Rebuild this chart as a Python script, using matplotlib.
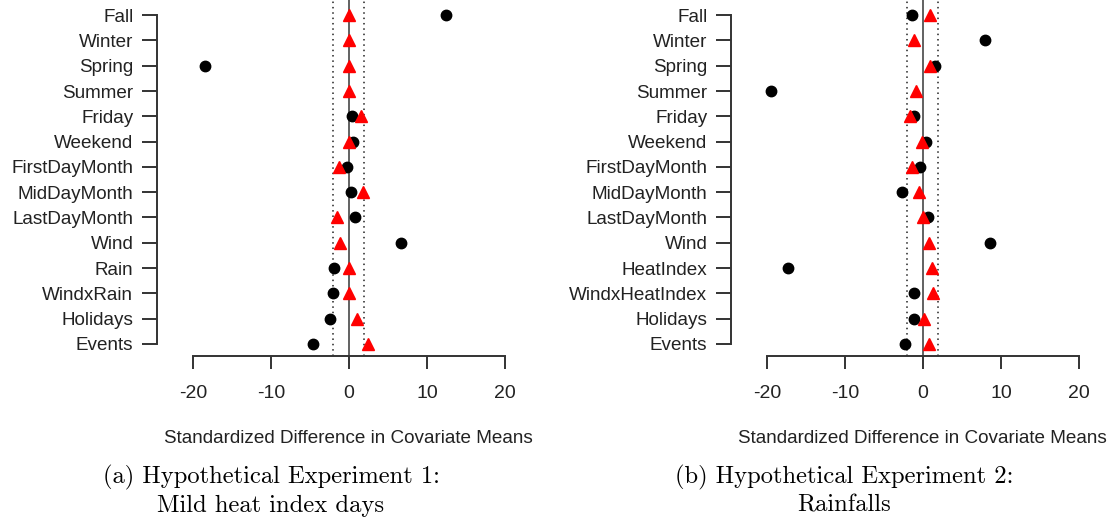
import numpy as np
import matplotlib
matplotlib.use("Agg")
import matplotlib.pyplot as plt

plt.rcParams['font.family'] = ['Liberation Sans', 'DejaVu Sans']
plt.rcParams['axes.unicode_minus'] = False

# covariates, top to bottom
covars_a = ["Fall", "Winter", "Spring", "Summer", "Friday", "Weekend",
            "FirstDayMonth", "MidDayMonth", "LastDayMonth", "Wind", "Rain",
            "WindxRain", "Holidays", "Events"]
covars_b = ["Fall", "Winter", "Spring", "Summer", "Friday", "Weekend",
            "FirstDayMonth", "MidDayMonth", "LastDayMonth", "Wind", "HeatIndex",
            "WindxHeatIndex", "Holidays", "Events"]

# standardized differences: before matching (dots), after matching (triangles)
before_a = [12.4, np.nan, -18.5, np.nan, 0.35, 0.55, -0.25, 0.3, 0.8, 6.7,
            -1.9, -2.0, -2.4, -4.6]
after_a = [0.0, 0.0, 0.0, 0.0, 1.6, 0.05, -1.25, 1.75, -1.55, -1.15,
           0.0, 0.05, 1.05, 2.4]
before_b = [-1.35, 7.95, 1.5, -19.45, -1.1, 0.45, -0.4, -2.65, 0.6, 8.6,
            -17.3, -1.1, -1.15, -2.3]
after_b = [0.85, -1.2, 0.85, -0.85, -1.6, -0.15, -1.4, -0.5, 0.0, 0.8,
           1.2, 1.25, 0.1, 0.8]

thresh = 2
xticks = [-20, -10, 0, 10, 20]
captions = ["(a) Hypothetical Experiment 1:\nMild heat index days",
            "(b) Hypothetical Experiment 2:\nRainfalls"]

W, H = 1120, 525
fig = plt.figure(figsize=(W / 100, H / 100), dpi=100)


def panel(x0, labels, before, after):
    # axes box in pixel units: left edge is the y spine, bottom edge the x spine
    ax = fig.add_axes([x0 / W, (H - 356) / H, 383 / W, 356 / H])
    y = np.arange(len(labels))
    ax.axvline(0, color="#555555", lw=1.3, zorder=1)
    for v in (-thresh, thresh):
        ax.axvline(v, color="#222222", lw=1.1, ls=(0, (1, 2.5)), zorder=1)
    ax.plot(before, y, "o", color="black", ms=7.5, zorder=3)
    ax.plot(after, y, "^", color="red", ms=8.5, zorder=4)

    ax.set_xlim(-24.6, 24.5)
    ax.set_ylim(len(labels) - 1 + 0.48, -0.6)
    ax.set_yticks(y)
    ax.set_yticklabels(labels)
    ax.set_xticks(xticks)
    for s in ("top", "right"):
        ax.spines[s].set_visible(False)
    for s in ("left", "bottom"):
        ax.spines[s].set_color("#333333")
        ax.spines[s].set_linewidth(1.4)
    ax.spines["left"].set_bounds(0, len(labels) - 1)
    ax.spines["bottom"].set_bounds(xticks[0], xticks[-1])
    ax.tick_params(axis="y", length=11, width=1.4, color="#333333",
                   pad=6, labelsize=13.6, labelcolor="#222222")
    ax.tick_params(axis="x", length=9, width=1.4, color="#333333",
                   pad=12, labelsize=14, labelcolor="#222222")
    ax.set_xlabel("Standardized Difference in Covariate Means",
                  fontsize=13.6, color="#222222", labelpad=20)
    return ax


panel(157, covars_a, before_a, after_a)
panel(731, covars_b, before_b, after_b)

for xc, cap in zip((271, 844), captions):
    fig.text(xc / W, 1 - 465 / H, cap, ha="center", va="top",
             family="cmr10", fontsize=17.7, linespacing=1.28)

fig.savefig("out.png", dpi=100)
